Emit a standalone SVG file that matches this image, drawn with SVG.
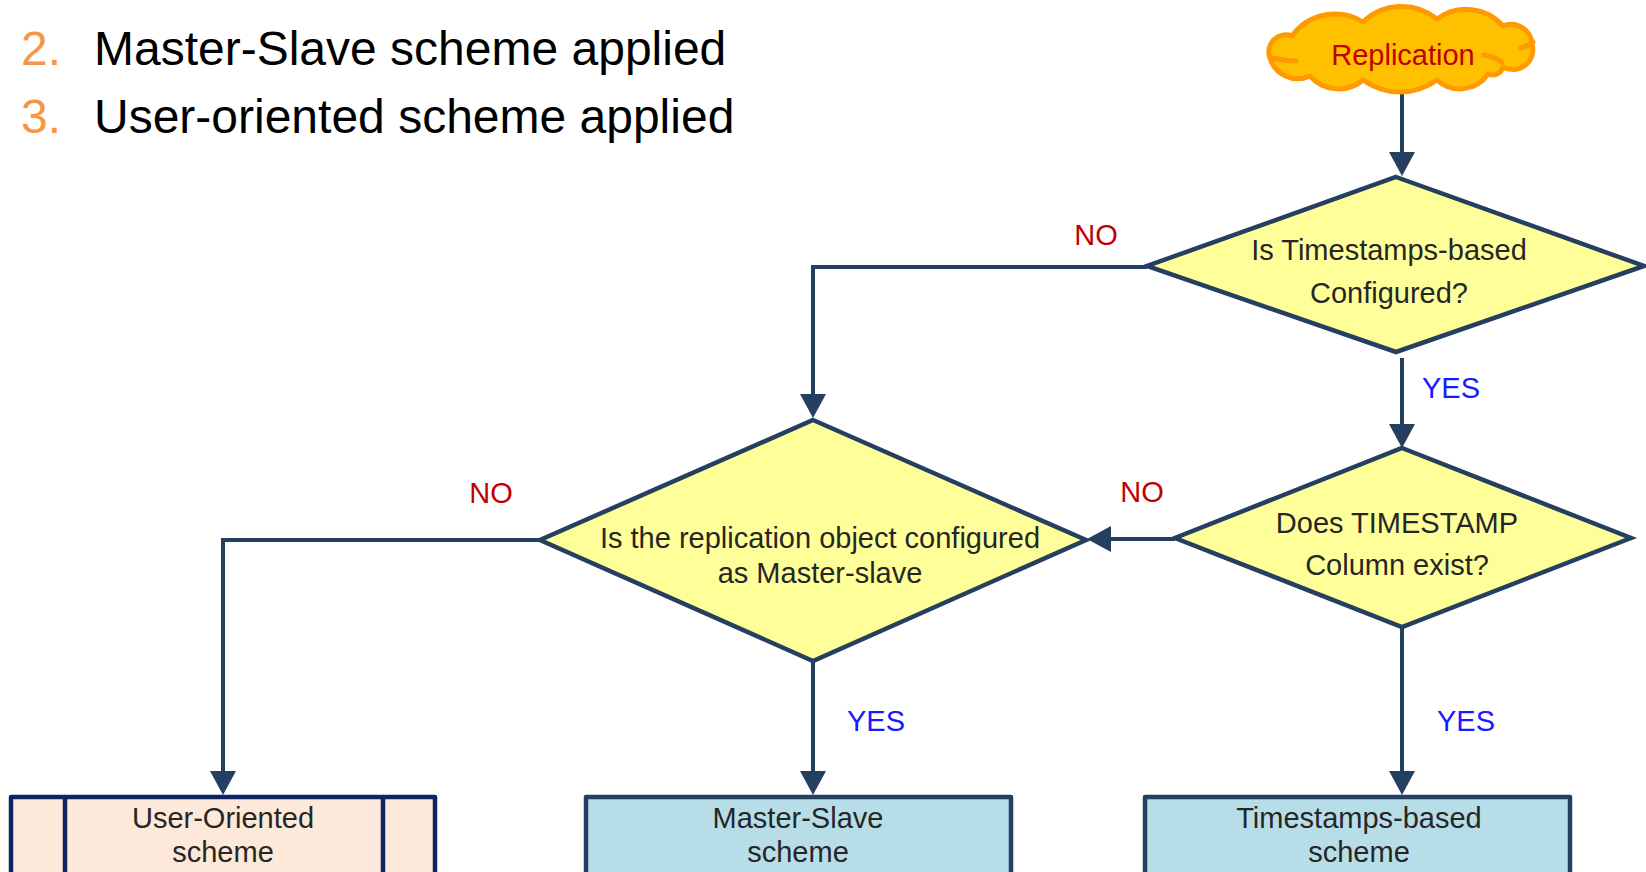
<svg xmlns="http://www.w3.org/2000/svg" width="1646" height="872" viewBox="0 0 1646 872">
  <style>
    .hdr { font-family: "Liberation Sans", Arial, sans-serif; font-size: 48px; fill: #000000; }
    .num { fill: #f79646; }
    .txt { font-family: "Liberation Sans", Arial, sans-serif; font-size: 29px; fill: #262626; text-anchor: middle; }
    .no  { font-family: "Liberation Sans", Arial, sans-serif; font-size: 29px; fill: #c00000; text-anchor: middle; }
    .yes { font-family: "Liberation Sans", Arial, sans-serif; font-size: 29px; fill: #1a1aff; text-anchor: middle; }
    .decision { fill: #ffff99; stroke: #243f60; stroke-width: 4.5; stroke-linejoin: miter; }
    .scheme { fill: #b7dee8; stroke: #243f60; stroke-width: 4.5; stroke-linejoin: round; }
    .user { fill: #fde9d9; stroke: #0c2461; stroke-width: 4.5; stroke-linejoin: round; }
    .link { fill: none; stroke: #243f60; stroke-width: 4; }
  </style>
  <defs>
    <marker id="arrow" markerUnits="userSpaceOnUse" markerWidth="26" markerHeight="26" viewBox="0 0 24 26" refX="14" refY="13" orient="auto">
      <path d="M0,0 L24,13 L0,26 z" fill="#243f60"/>
    </marker>
  </defs>

  <!-- bullet lines -->
  <g id="header">
    <text class="hdr" x="21" y="65"><tspan class="num">2.</tspan></text>
    <text class="hdr" x="94" y="65">Master-Slave scheme applied</text>
    <text class="hdr" x="21" y="133"><tspan class="num">3.</tspan></text>
    <text class="hdr" x="94" y="133">User-oriented scheme applied</text>
  </g>

  <!-- connectors -->
  <g id="connectors">
    <path class="link" d="M1402,90 V166" marker-end="url(#arrow)"/>
    <path class="link" d="M1147,267 H813 V408" marker-end="url(#arrow)"/>
    <path class="link" d="M1402,358 V438" marker-end="url(#arrow)"/>
    <path class="link" d="M1175,539 H1097" marker-end="url(#arrow)"/>
    <path class="link" d="M540,540 H223 V785" marker-end="url(#arrow)"/>
    <path class="link" d="M813,661 V785" marker-end="url(#arrow)"/>
    <path class="link" d="M1402,627 V785" marker-end="url(#arrow)"/>
    <text class="no" x="1096" y="245">NO</text>
    <text class="yes" x="1451" y="398">YES</text>
    <text class="no" x="1142" y="502">NO</text>
    <text class="no" x="491" y="503">NO</text>
    <text class="yes" x="876" y="731">YES</text>
    <text class="yes" x="1466" y="731">YES</text>
  </g>

  <!-- start cloud -->
  <g id="replication">
    <path d="M1270,58 A17,17 0 0 1 1292,36 A53,53 0 0 1 1363,22 A56,56 0 0 1 1437,19 A49,49 0 0 1 1503,26 A21,21 0 0 1 1532,44 A20,20 0 0 1 1503,67 A11,11 0 0 1 1488,74 A34,34 0 0 1 1437,80 A63,63 0 0 1 1363,80 A38,38 0 0 1 1310,76 A29,29 0 0 1 1270,58 z" fill="#ffc000" stroke="#ff9900" stroke-width="5" stroke-linejoin="round"/>
    <path d="M1521,48 Q1528,46 1533,42 M1484,55 Q1495,57 1502,62 M1273,58 Q1285,61 1296,61" fill="none" stroke="#ff9900" stroke-width="5" stroke-linecap="round"/>
    <text x="1403" y="65" font-family="Liberation Sans, Arial, sans-serif" font-size="29" fill="#c00000" text-anchor="middle">Replication</text>
  </g>

  <g id="timestamps-configured">
    <polygon class="decision" points="1396,177 1644,266 1396,352 1147,266"/>
    <text class="txt" x="1389" y="260">Is Timestamps-based</text>
    <text class="txt" x="1389" y="303">Configured?</text>
  </g>

  <g id="timestamp-column">
    <polygon class="decision" points="1402,448 1631,538 1402,627 1175,538"/>
    <text class="txt" x="1397" y="533">Does TIMESTAMP</text>
    <text class="txt" x="1397" y="575">Column exist?</text>
  </g>

  <g id="master-slave-configured">
    <polygon class="decision" points="813,420 1086,540 813,661 540,540"/>
    <text class="txt" x="820" y="548">Is the replication object configured</text>
    <text class="txt" x="820" y="583">as Master-slave</text>
  </g>

  <g id="user-oriented">
    <rect class="user" x="11" y="797" width="424" height="100"/>
    <line x1="65" y1="797" x2="65" y2="880" stroke="#0c2461" stroke-width="4.5"/>
    <line x1="383" y1="797" x2="383" y2="880" stroke="#0c2461" stroke-width="4.5"/>
    <text class="txt" x="223" y="828">User-Oriented</text>
    <text class="txt" x="223" y="862">scheme</text>
  </g>

  <g id="master-slave">
    <rect class="scheme" x="586" y="797" width="425" height="100"/>
    <text class="txt" x="798" y="828">Master-Slave</text>
    <text class="txt" x="798" y="862">scheme</text>
  </g>

  <g id="timestamps-based">
    <rect class="scheme" x="1145" y="797" width="425" height="100"/>
    <text class="txt" x="1359" y="828">Timestamps-based</text>
    <text class="txt" x="1359" y="862">scheme</text>
  </g>
</svg>
